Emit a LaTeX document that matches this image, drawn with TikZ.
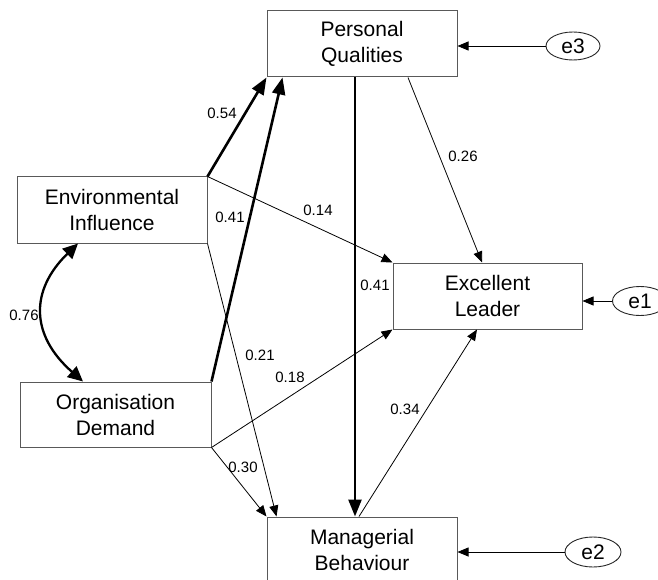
\documentclass[tikz,border=0pt]{standalone}
\usepackage{fontspec}
\setmainfont{Liberation Sans}
\usetikzlibrary{arrows.meta,shapes.geometric}
\begin{document}
\begin{tikzpicture}[x=1pt,y=-1pt,
 box/.style={draw=black!65, line width=1pt, minimum width=190pt, minimum height=66pt, inner sep=0pt, align=center, font=\fontsize{21}{26}\selectfont},
 err/.style={draw=black!85, ellipse, line width=0.9pt, minimum width=55pt, minimum height=29pt, inner sep=0pt, font=\fontsize{21}{26}\selectfont},
 pthin/.style={line width=0.8pt, -{Triangle[length=11pt,width=9pt]}},
 pthick/.style={line width=2.6pt, -{Triangle[length=17pt,width=13pt]}},
 pcurve/.style={line width=2.3pt, {Triangle[length=15pt,width=14pt]}-{Triangle[length=15pt,width=14pt]}},
 lab/.style={font=\fontsize{15}{18}\selectfont, inner sep=0pt}]
\useasboundingbox (0,0) rectangle (658,580);
\clip (0,0) rectangle (658,580);
% boxes
\node[box] (PQ) at (362,44) {Personal\\Qualities};
\node[box] (EI) at (112,210) {Environmental\\Influence};
\node[box, minimum width=191pt, minimum height=65pt] (OD) at (115.5,414.5) {Organisation\\Demand};
\node[box, minimum width=189pt] (EL) at (487.5,296) {Excellent\\Leader};
\node[box] (MB) at (362,550) {Managerial\\Behaviour};
% error terms
\node[err, minimum width=54pt, minimum height=28pt] (e3) at (573,46) {e3};
\node[err] (e1) at (640,301) {e1};
\node[err, minimum width=56pt, minimum height=30pt] (e2) at (593,552) {e2};
% error arrows
\draw[pthin] (e3.west) -- (e3.west -| PQ.east);
\draw[pthin] (e1.west) -- (e1.west -| EL.east);
\draw[pthin] (e2.west) -- (e2.west -| MB.east);
% thick paths
\draw[pthick] (EI.north east) -- (PQ.south west);
\draw[pthick] (OD.north east) -- ([xshift=16pt]PQ.south west);
\draw[pthick] ([xshift=-7pt]PQ.south) -- ([xshift=-7pt]MB.north);
% thin paths
\draw[pthin] ([xshift=46pt]PQ.south) -- ([xshift=-5.5pt]EL.north);
\draw[pthin] (EI.north east) -- (EL.north west);
\draw[pthin] (EI.south east) -- ([xshift=10pt]MB.north west);
\draw[pthin] (OD.south east) -- (EL.south west);
\draw[pthin] (OD.south east) -- (MB.north west);
\draw[pthin] ([xshift=-3pt]MB.north) -- ([xshift=-10.5pt]EL.south);
% covariance
\draw[pcurve] ([xshift=-34pt]EI.south) .. controls (30,290) and (30,335) .. ([xshift=-32.5pt]OD.north);
% labels
\node[lab] (l054) at (222,113) {0.54};
\node[lab] (l041a) at (230,217) {0.41};
\node[lab] (l014) at (318,210) {0.14};
\node[lab] (l026) at (463,156) {0.26};
\node[lab] (l041b) at (375,285) {0.41};
\node[lab] (l076) at (24,315) {0.76};
\node[lab] (l021) at (260,355) {0.21};
\node[lab] (l018) at (290,377) {0.18};
\node[lab] (l034) at (405,409) {0.34};
\node[lab] (l030) at (243,467) {0.30};
\end{tikzpicture}
\end{document}
